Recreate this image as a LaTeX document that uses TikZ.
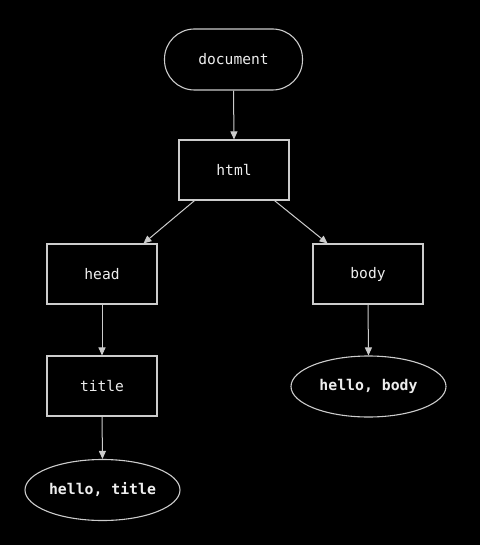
\documentclass[tikz,border=0pt]{standalone}
\usepackage{fontspec}
\setmonofont{DejaVu Sans Mono}
\usetikzlibrary{arrows.meta,shapes.geometric,calc}
\definecolor{linegray}{HTML}{CCCCCC}
\definecolor{textwhite}{HTML}{EEEEEE}
\begin{document}
\begin{tikzpicture}[x=1pt,y=-1pt,
  base/.style={draw=linegray,line width=1.1pt,text=textwhite,font=\ttfamily\fontsize{14.6}{16}\selectfont,inner sep=0pt},
  boxnode/.style={base,rectangle,minimum width=110pt,minimum height=60pt},
  startnode/.style={base,rectangle,rounded corners=30pt,minimum width=138pt,minimum height=61pt},
  leafnode/.style={base,ellipse,minimum width=155pt,minimum height=61pt,font=\ttfamily\bfseries\fontsize{14.8}{16}\selectfont},
  link/.style={draw=linegray,line width=1pt,-{Triangle[length=8pt,width=7pt]}}
]
\fill[black] (0,0) rectangle (480,545);
\useasboundingbox (0,0) rectangle (480,545);
\node[startnode] (document) at (233.5,59.5) {\raisebox{1pt}{document}};
\node[boxnode] (html) at (234,170) {\raisebox{1pt}{html}};
\node[boxnode] (head) at (102,274) {\raisebox{1pt}{head}};
\node[boxnode] (body) at (368,274) {\raisebox{1pt}{body}};
\node[boxnode] (title) at (102,386) {\raisebox{1pt}{title}};
\node[leafnode] (hb) at (368.5,386.5) {hello, body};
\node[leafnode] (ht) at (102.5,490) {hello, title};
\draw[link] (document.south) -- (html.north);
\draw[link] ($(html.south west)!0.145!(html.south east)$) -- ($(head.north west)!0.873!(head.north east)$);
\draw[link] ($(html.south west)!0.864!(html.south east)$) -- ($(body.north west)!0.136!(body.north east)$);
\draw[link] (head.south) -- (title.north);
\draw[link] (title.south) -- (ht.north);
\draw[link] (body.south) -- (hb.north);
\end{tikzpicture}
\end{document}
